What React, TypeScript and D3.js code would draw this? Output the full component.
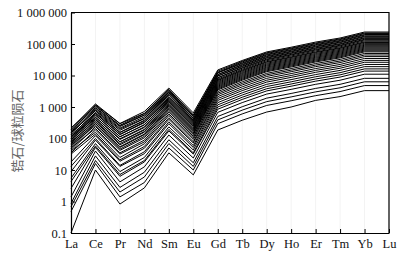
import React, { useEffect, useRef } from 'react';
import * as d3 from 'd3';

// REE elements on the x axis
const elements = ['La', 'Ce', 'Pr', 'Nd', 'Sm', 'Eu', 'Gd', 'Tb', 'Dy', 'Ho', 'Er', 'Tm', 'Yb', 'Lu'];

// log axis ticks and their printed labels
const yTicks = [0.1, 1, 10, 100, 1000, 10000, 100000, 1000000];
const yTickLabels = ['0.1', '1', '10', '100', '1 000', '10 000', '100 000', '1 000 000'];

const yTitle = '锆石/球粒陨石';

// chondrite-normalised zircon REE, one row per spot
const highSamples: number[][] = [
  [210, 1250, 300, 720, 4000, 650, 15000, 30000, 56000, 79000, 115000, 155000, 240000, 240000],
  [190, 1170, 295, 630, 3630, 560, 13800, 28200, 52500, 74100, 107000, 145000, 224000, 224000],
  [215, 1050, 263, 617, 3550, 550, 12600, 26900, 50100, 70800, 102000, 138000, 214000, 214000],
  [158, 1120, 251, 562, 3310, 501, 12300, 25100, 46800, 66100, 95500, 129000, 200000, 200000],
  [178, 955, 240, 550, 3090, 490, 12000, 24000, 44700, 63100, 91200, 123000, 191000, 191000],
  [132, 912, 214, 490, 2950, 437, 10700, 22400, 41700, 58900, 85100, 115000, 178000, 178000],
  [151, 832, 200, 437, 2820, 417, 10700, 21400, 39800, 56200, 81300, 110000, 170000, 170000],
  [112, 776, 182, 427, 2570, 380, 9770, 20000, 37200, 52500, 75900, 102000, 158000, 158000],
  [148, 759, 158, 380, 2400, 372, 9550, 19100, 35500, 50100, 72400, 97700, 151000, 151000],
  [100, 676, 155, 363, 2140, 355, 8510, 17800, 33100, 46800, 67600, 91200, 141000, 141000],
  [126, 631, 138, 331, 2040, 331, 8510, 17000, 31600, 44700, 64600, 87100, 135000, 135000],
  [89, 631, 132, 316, 1910, 309, 7760, 15800, 29500, 41700, 60300, 81300, 126000, 126000],
  [115, 550, 112, 275, 1780, 288, 7240, 14800, 27500, 38900, 56200, 75900, 117000, 117000],
];

const midSamples: number[][] = [
  [79, 562, 115, 269, 1660, 269, 6920, 14100, 26300, 37200, 53700, 72400, 112000, 112000],
  [102, 479, 98, 234, 1550, 251, 6460, 13200, 24500, 34700, 50100, 67600, 105000, 105000],
  [71, 468, 93, 224, 1450, 240, 6030, 12300, 22900, 32400, 46800, 63100, 97700, 97700],
  [91, 417, 79, 195, 1320, 219, 5620, 11500, 21400, 30200, 43700, 58900, 91200, 91200],
  [63, 398, 78, 186, 1230, 204, 5250, 10700, 20000, 28200, 40700, 55000, 85100, 85100],
  [78, 355, 69, 166, 1150, 191, 4900, 10000, 18600, 26300, 38000, 51300, 79400, 79400],
  [55, 339, 63, 158, 1070, 178, 4570, 9330, 17400, 24500, 35500, 47900, 74100, 74100],
  [68, 302, 55, 138, 977, 166, 4270, 8710, 16200, 22900, 33100, 44700, 69200, 69200],
  [48, 295, 52, 132, 912, 151, 3980, 8130, 15100, 21400, 30900, 41700, 64600, 64600],
  [60, 263, 46, 117, 851, 141, 3720, 7590, 14100, 20000, 28800, 38900, 60300, 60300],
  [42, 240, 42, 105, 776, 132, 3470, 7080, 13200, 18600, 26900, 36300, 56200, 56200],
  [50, 209, 35, 89, 692, 117, 3090, 6310, 11700, 16600, 24000, 32400, 50100, 50100],
  [35, 186, 32, 78, 603, 105, 2750, 5620, 10500, 14800, 21400, 28800, 44700, 44700],
  [40, 158, 25, 68, 537, 93, 2450, 5010, 9330, 13200, 19100, 25700, 39800, 39800],
];

const lowSamples: number[][] = [
  [32, 138, 21, 56, 457, 79, 2140, 4370, 8130, 11500, 16600, 22400, 34700, 34700],
  [18, 123, 19, 49, 407, 72, 1860, 3800, 7080, 10000, 14500, 19500, 30200, 30200],
  [13, 100, 14, 38, 339, 60, 1620, 3310, 6170, 8710, 12600, 17000, 26300, 26300],
  [8.9, 89, 13, 33, 295, 52, 1380, 2820, 5250, 7410, 10700, 14500, 22400, 22400],
  [5.5, 69, 8.9, 25, 234, 43, 1170, 2400, 4470, 6310, 9120, 12300, 19100, 19100],
  [4.3, 58, 7.2, 20, 195, 35, 1000, 2040, 3800, 5370, 7760, 10500, 16200, 16200],
  [2.6, 52, 6.3, 18, 174, 32, 850, 1740, 3240, 4570, 6610, 8910, 13800, 13800],
  [1.4, 40, 4.2, 12.6, 129, 24, 676, 1380, 2570, 3630, 5250, 7080, 11000, 11000],
  [0.87, 28, 2.8, 8.5, 91, 17, 500, 1020, 1910, 2690, 3890, 5250, 8130, 8130],
  [0.68, 20, 2.0, 6.0, 69, 13, 389, 794, 1480, 2090, 3020, 4070, 6310, 6310],
  [0.48, 16, 1.4, 4.0, 50, 10, 295, 603, 1120, 1580, 2290, 3090, 4790, 4790],
  [0.1, 10, 0.83, 2.7, 35, 7, 186, 380, 692, 1000, 1620, 2140, 3310, 3310],
];

function App() {
  const svgRef = useRef<SVGSVGElement>(null);

  useEffect(() => {
    const svg = d3.select(svgRef.current);
    svg.selectAll('*').remove();

    const left = 71, right = 389, top = 12.5, bottom = 233;
    const serif = 'Liberation Serif, Times New Roman, serif';

    const x = d3.scalePoint<string>().domain(elements).range([left, right]);
    const y = d3.scaleLog().domain([0.1, 1000000]).range([bottom, top]);

    // faint vertical guides
    svg.append('g')
      .selectAll('line')
      .data(elements)
      .enter()
      .append('line')
      .attr('x1', d => x(d)!)
      .attr('x2', d => x(d)!)
      .attr('y1', top)
      .attr('y2', bottom)
      .attr('stroke', '#f3f3f3')
      .attr('stroke-width', 1);

    // spider lines
    const line = d3.line<number>()
      .x((d, i) => x(elements[i])!)
      .y(d => y(d));

    const samples = [...highSamples, ...midSamples, ...lowSamples];
    svg.append('g')
      .selectAll('path')
      .data(samples)
      .enter()
      .append('path')
      .attr('d', d => line(d))
      .attr('fill', 'none')
      .attr('stroke', '#000')
      .attr('stroke-width', 1)
      .attr('stroke-linejoin', 'miter');

    // axes
    const yAxis = d3.axisLeft(y)
      .tickValues(yTicks)
      .tickFormat((d, i) => yTickLabels[i])
      .tickSize(-4)
      .tickSizeOuter(0)
      .tickPadding(4);

    const xAxis = d3.axisBottom(x)
      .tickSize(-4)
      .tickSizeOuter(0)
      .tickPadding(6);

    const gy = svg.append('g')
      .attr('transform', `translate(${left},0)`)
      .call(yAxis);
    const gx = svg.append('g')
      .attr('transform', `translate(0,${bottom})`)
      .call(xAxis);

    [gx, gy].forEach(g => {
      g.attr('font-family', serif).attr('font-size', 12.5);
      g.selectAll('text').attr('fill', '#111');
      g.selectAll('line').attr('stroke', '#000');
      g.select('.domain').attr('stroke', '#000').attr('stroke-width', 1.2);
    });

    // frame top and right
    svg.append('path')
      .attr('d', `M${left},${top}H${right}V${bottom}`)
      .attr('fill', 'none')
      .attr('stroke', '#000')
      .attr('stroke-width', 1.2);

    // y title
    svg.append('text')
      .attr('transform', `translate(22,131) rotate(-90)`)
      .attr('text-anchor', 'middle')
      .attr('fill', '#666')
      .attr('font-family', 'Noto Sans CJK SC, sans-serif')
      .attr('font-size', 13)
      .text(yTitle);
  }, []);

  return (
    <svg
      ref={svgRef}
      width={407}
      height={256}
      style={{ position: 'absolute', left: 0, top: 0, background: '#fff' }}
    />
  );
}

export default App;
